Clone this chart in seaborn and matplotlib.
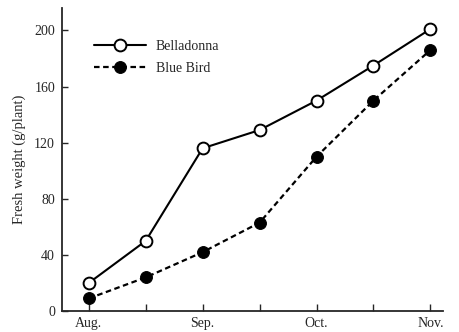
import matplotlib
matplotlib.use("Agg")
import matplotlib.pyplot as plt
import seaborn as sns
import pandas as pd

months = ["Aug.", "", "Sep.", "", "Oct.", "", "Nov."]
positions = [0, 1, 2, 3, 4, 5, 6]
belladonna = [20, 50, 116, 129, 150, 175, 201]
blue_bird = [9, 24, 42, 63, 110, 150, 186]
yticks = [0, 40, 80, 120, 160, 200]

sns.set_theme(style="ticks")
plt.rcParams["font.family"] = ["Liberation Serif", "DejaVu Serif"]

df = pd.DataFrame({
    "x": positions * 2,
    "y": belladonna + blue_bird,
    "variety": ["Belladonna"] * 7 + ["Blue Bird"] * 7,
})

fig = plt.figure(figsize=(4.59, 3.32), dpi=100)
ax = fig.add_axes([0.135, 0.063, 0.83, 0.913])

sns.lineplot(data=df[df.variety == "Belladonna"], x="x", y="y", ax=ax,
             color="black", lw=1.5, marker="o", markersize=8.5,
             markerfacecolor="white", markeredgecolor="black", markeredgewidth=1.4,
             label="Belladonna")
sns.lineplot(data=df[df.variety == "Blue Bird"], x="x", y="y", ax=ax,
             color="black", lw=1.6, marker="o", markersize=8.5,
             markerfacecolor="black", markeredgecolor="black",
             linestyle=(0, (2.5, 1.6)), label="Blue Bird")

ax.set_xlim(-0.47, 6.22)
ax.set_ylim(0, 216)
ax.set_xticks(positions)
ax.set_xticklabels(months, fontsize=10)
ax.set_yticks(yticks)
ax.set_yticklabels([str(v) for v in yticks], fontsize=10)
ax.tick_params(axis="x", direction="in", length=5, width=1, pad=4)
ax.tick_params(axis="y", direction="in", length=4, width=1, pad=5)
ax.set_xlabel("")
ax.set_ylabel("Fresh weight (g/plant)", fontsize=10.5, labelpad=6)
for s in ["top", "right"]:
    ax.spines[s].set_visible(False)
for s in ["left", "bottom"]:
    ax.spines[s].set_linewidth(1.3)

leg = ax.legend(loc="upper left", bbox_to_anchor=(0.05, 0.935), frameon=False,
                fontsize=10, handlelength=3.8, handletextpad=0.7, labelspacing=0.6)

fig.savefig("out.png", dpi=100)
